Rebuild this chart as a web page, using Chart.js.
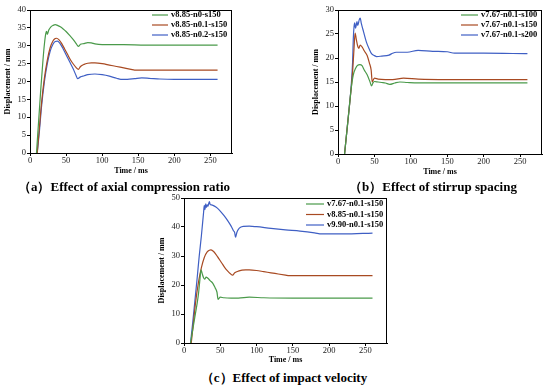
<!DOCTYPE html>
<html>
<head>
<meta charset="utf-8">
<script src="https://cdn.jsdelivr.net/npm/chart.js@4"></script>
<style>
  body { margin: 0; background: #fff; }
  #fig { position: relative; width: 550px; height: 388px; overflow: hidden; }
  #fig canvas { position: absolute; }
  .cap {
    position: absolute; text-align: center; white-space: nowrap;
    font: bold 13px 'Liberation Serif', 'Times New Roman', serif; color: #000;
  }
</style>
</head>
<body>
<div id="fig">
  <canvas id="chartA" width="245" height="180" style="left:0px;top:0px;width:245px;height:180px"></canvas>
  <canvas id="chartB" width="240" height="181" style="left:308px;top:0px;width:240px;height:181px"></canvas>
  <canvas id="chartC" width="240" height="181" style="left:154px;top:188px;width:240px;height:181px"></canvas>
  <div class="cap" style="left:14px;width:220px;top:178px">（a）Effect of axial compression ratio</div>
  <div class="cap" style="left:343px;width:180px;top:178px">（b）Effect of stirrup spacing</div>
  <div class="cap" style="left:194px;width:180px;top:369px">（c）Effect of impact velocity</div>
</div>
<script>
// ---- colours by position in each panel ----
const LINE_COLORS = ['#4a9a4a', '#a84a22', '#3f5fc4'];

// ---- (a) axial compression ratio ----
const T_V885_N0 = [9, 12, 15, 18, 20, 22, 23, 24, 26, 29, 32, 35, 38, 42, 46, 50, 55, 60, 64, 66, 67, 70, 75, 80, 85, 90, 100, 130, 160, 200, 260];
const D_V885_N0 = [0, 9, 18, 26, 30.5, 33.5, 34, 33.2, 34.4, 35.3, 35.7, 35.9, 35.7, 35.3, 34.7, 34, 32.9, 31.7, 30.6, 30, 29.8, 30.4, 30.6, 30.9, 30.8, 30.5, 30.3, 30.3, 30.2, 30.2, 30.2];

const T_V885_N01 = [10, 13, 16, 20, 24, 28, 32, 35, 37, 40, 44, 48, 52, 56, 60, 64, 67, 70, 75, 80, 85, 90, 100, 110, 120, 130, 140, 145, 160, 200, 260];
const D_V885_N01 = [0, 7, 14, 21, 26, 29.5, 31.4, 32, 32.1, 31.7, 30.6, 29.1, 27.6, 26.1, 24.9, 23.9, 23.4, 24.2, 24.8, 25.1, 25.2, 25.2, 25, 24.6, 24.2, 23.8, 23.4, 23.2, 23.2, 23.2, 23.2];

const T_V885_N02 = [10, 13, 16, 20, 24, 28, 32, 35, 38, 41, 45, 50, 55, 60, 64, 66, 70, 75, 80, 90, 100, 110, 120, 126, 135, 145, 155, 165, 180, 200, 260];
const D_V885_N02 = [0, 6, 13, 20, 25, 28.5, 30.5, 31.2, 31.3, 30.8, 29.5, 27.5, 25.5, 23.5, 21.6, 20.8, 21.3, 21.6, 21.9, 22.1, 21.9, 21.5, 20.9, 20.6, 20.6, 20.8, 21, 20.9, 20.7, 20.6, 20.6];

// ---- (b) stirrup spacing ----
const T_V767_S100 = [9, 12, 15, 18, 21, 24, 27, 30, 33, 36, 40, 44, 46, 48, 50, 55, 60, 65, 71, 78, 85, 95, 110, 150, 200, 260];
const D_V767_S100 = [0, 4.5, 9, 13.5, 16.5, 17.8, 18.5, 18.6, 18.4, 17.5, 16.5, 15, 14.2, 14.8, 15.1, 15, 14.9, 14.8, 14.5, 14.8, 15, 14.9, 14.8, 14.8, 14.8, 14.8];

const T_V767_S150 = [9, 12, 15, 18, 20, 22, 23.5, 25, 27, 28.5, 30.5, 33, 36, 40, 43, 45.5, 47, 48, 50, 55, 65, 75, 90, 110, 150, 200, 260];
const D_V767_S150 = [0, 4.5, 9, 13.5, 17, 22, 25.2, 24, 22.5, 22, 22.7, 22.3, 21.5, 20.5, 19, 17.5, 15, 15.3, 15.8, 15.6, 15.5, 15.5, 15.8, 15.6, 15.5, 15.5, 15.5];

const T_V767_S200 = [9, 12, 15, 18, 20, 21, 22, 23, 24, 25, 26, 27, 28, 29, 30.5, 32, 35, 39, 43, 46, 50, 53, 60, 70, 75, 80, 95, 110, 130, 150, 160, 200, 260];
const D_V767_S200 = [0, 4.5, 9, 14, 19, 24, 26.5, 27.3, 26.2, 26.8, 27.6, 26.8, 27.2, 27.9, 28.3, 27.2, 25.5, 23.3, 21.8, 20.9, 20.5, 20.3, 20.4, 20.6, 21, 21.2, 21.2, 21.6, 21.4, 21.3, 21, 21, 20.9];

// ---- (c) impact velocity (v7.67 and v8.85 runs shared with (a)/(b)) ----
const T_V990_N01 = [9, 12, 15, 18, 21, 24, 27, 28, 29, 30, 31, 32, 33, 34, 35, 36, 38, 42, 46, 50, 55, 60, 65, 68, 70, 71, 72, 73, 75, 78, 82, 90, 100, 120, 140, 160, 180, 190, 220, 260];
const D_V990_N01 = [0, 7, 14.5, 22, 30, 37, 45, 47.5, 46, 48, 46.8, 47.6, 47.2, 48, 48.8, 47.8, 47.6, 47.2, 46.5, 45.5, 44, 42.3, 40.3, 38.8, 38, 36.5, 37.2, 38.2, 39.2, 39.9, 40.2, 40.3, 40.1, 39.5, 39, 38.6, 38, 37.6, 37.6, 37.9];

// ---- axes ----
const X_MAX = 280;
const X_STEP = 50;

function pts(t, d) {
  return t.map((v, i) => ({ x: v, y: d[i] }));
}

// plot frame + inner legend
const framePlugin = {
  id: 'frame',
  afterDraw(chart, args, opts) {
    const { ctx, chartArea: a } = chart;
    ctx.save();
    ctx.strokeStyle = '#000';
    ctx.lineWidth = 1;
    ctx.strokeRect(a.left + 0.5, a.top + 0.5, a.right - a.left - 1, a.bottom - a.top);
    ctx.font = "bold 8.5px 'Liberation Serif', serif";
    ctx.textBaseline = 'middle';
    ctx.fillStyle = '#000';
    chart.data.datasets.forEach((ds, i) => {
      const y = opts.ty + i * opts.dy;
      ctx.strokeStyle = ds.borderColor;
      ctx.lineWidth = 1.2;
      ctx.beginPath();
      ctx.moveTo(opts.lx, y);
      ctx.lineTo(opts.lx + opts.lw, y);
      ctx.stroke();
      ctx.fillText(ds.label, opts.tx, y);
    });
    ctx.restore();
  }
};

function makeChart(id, series, yMax, yStep, box) {
  return new Chart(document.getElementById(id), {
    type: 'line',
    data: {
      datasets: series.map((s, i) => ({
        label: s.label,
        data: pts(s.t, s.d),
        borderColor: LINE_COLORS[i],
        borderWidth: 1.2,
        pointRadius: 0,
        cubicInterpolationMode: 'monotone',
        fill: false
      }))
    },
    options: {
      responsive: false,
      animation: false,
      layout: { padding: { top: box.top, right: box.right, left: 0, bottom: 0 } },
      plugins: {
        legend: { display: false },
        tooltip: { enabled: false },
        frame: box.legend
      },
      scales: {
        x: {
          type: 'linear', min: 0, max: X_MAX,
          afterFit: s => { s.height = box.xh; },
          ticks: { stepSize: X_STEP, includeBounds: false, autoSkip: false, maxRotation: 0, padding: 0, color: '#222',
                   font: { family: "'Liberation Serif', serif", size: 8.5 } },
          grid: { drawOnChartArea: false, tickLength: 3, color: '#000' },
          border: { color: '#000' },
          title: { display: true, text: 'Time / ms', color: '#000', padding: { top: 0, bottom: 4 },
                   font: { family: "'Liberation Serif', serif", size: 8, weight: 'bold' } }
        },
        y: {
          min: 0, max: yMax,
          afterFit: s => { s.width = box.yw; },
          ticks: { stepSize: yStep, padding: 1, color: '#222', font: { family: "'Liberation Serif', serif", size: 8.5 } },
          grid: { drawOnChartArea: false, tickLength: 3, color: '#000' },
          border: { color: '#000' },
          title: { display: true, text: 'Displacement / mm', color: '#000', padding: { top: 3, bottom: 0 },
                   font: { family: "'Liberation Serif', serif", size: 8, weight: 'bold' } }
        }
      }
    },
    plugins: [framePlugin]
  });
}

makeChart('chartA', [
  { label: 'v8.85-n0-s150', t: T_V885_N0, d: D_V885_N0 },
  { label: 'v8.85-n0.1-s150', t: T_V885_N01, d: D_V885_N01 },
  { label: 'v8.85-n0.2-s150', t: T_V885_N02, d: D_V885_N02 }
], 40, 5, { top: 10, right: 13, xh: 27, yw: 30, legend: { lx: 152, lw: 16, tx: 171, ty: 15, dy: 10 } });

makeChart('chartB', [
  { label: 'v7.67-n0.1-s100', t: T_V767_S100, d: D_V767_S100 },
  { label: 'v7.67-n0.1-s150', t: T_V767_S150, d: D_V767_S150 },
  { label: 'v7.67-n0.1-s200', t: T_V767_S200, d: D_V767_S200 }
], 30, 5, { top: 10, right: 6, xh: 27, yw: 30, legend: { lx: 153, lw: 17, tx: 173, ty: 15, dy: 10 } });

makeChart('chartC', [
  { label: 'v7.67-n0.1-s150', t: T_V767_S150, d: D_V767_S150 },
  { label: 'v8.85-n0.1-s150', t: T_V885_N01, d: D_V885_N01 },
  { label: 'v9.90-n0.1-s150', t: T_V990_N01, d: D_V990_N01 }
], 50, 10, { top: 10, right: 7, xh: 26, yw: 30, legend: { lx: 152, lw: 18, tx: 173, ty: 16, dy: 10.5 } });
</script>
</body>
</html>
